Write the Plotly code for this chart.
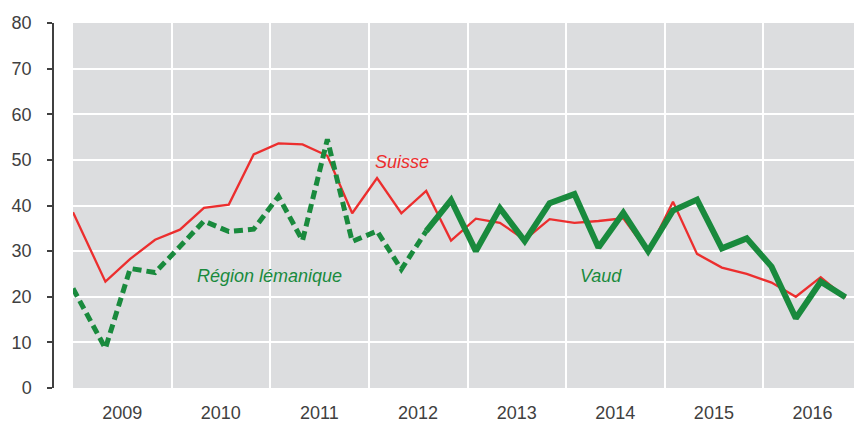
import plotly.graph_objects as go

dates = ["2009-01-01", "2009-05-01", "2009-08-01", "2009-11-01",
         "2010-02-01", "2010-05-01", "2010-08-01", "2010-11-01",
         "2011-02-01", "2011-05-01", "2011-08-01", "2011-11-01",
         "2012-02-01", "2012-05-01", "2012-08-01", "2012-11-01",
         "2013-02-01", "2013-05-01", "2013-08-01", "2013-11-01",
         "2014-02-01", "2014-05-01", "2014-08-01", "2014-11-01",
         "2015-02-01", "2015-05-01", "2015-08-01", "2015-11-01",
         "2016-02-01", "2016-05-01", "2016-08-01", "2016-11-01"]

suisse = [38.5, 23.3, 28.3, 32.5, 34.7, 39.5, 40.2, 51.2,
          53.6, 53.4, 50.9, 38.3, 46.0, 38.3, 43.2, 32.3,
          37.1, 36.2, 32.5, 37.0, 36.2, 36.6, 37.2, 29.8,
          40.8, 29.4, 26.4, 25.0, 23.1, 20.0, 24.3, 19.8]

region_dates = dates[:15]
region_lemanique = [21.8, 8.7, 26.2, 25.3, 31.0, 36.6, 34.3, 34.8,
                    42.0, 32.3, 54.5, 32.1, 34.4, 26.0, 34.4]

vaud_dates = dates[14:]
vaud = [34.4, 41.2, 30.0, 39.4, 32.2, 40.5, 42.5, 30.8, 38.4,
        30.0, 38.9, 41.3, 30.6, 32.8, 26.6, 15.3, 23.3, 19.9]

RED = "#EC2E2E"
GREEN = "#198A3D"
FONT = "Liberation Sans, Arial, sans-serif"

fig = go.Figure()
fig.add_trace(go.Scatter(x=dates, y=suisse, mode="lines",
                         line=dict(color=RED, width=2.3), name="Suisse"))
fig.add_trace(go.Scatter(x=region_dates, y=region_lemanique, mode="lines",
                         line=dict(color=GREEN, width=5, dash="9px,5px"),
                         name="Région lémanique"))
fig.add_trace(go.Scatter(x=vaud_dates, y=vaud, mode="lines",
                         line=dict(color=GREEN, width=6), name="Vaud"))

# page body has an 8px margin, so the figure is offset by 8px
OFF = 8
W, H = 854, 415
ML, MR, MT, MB = 45, 0, 15, 35
pw = W - ML - MR
ph = H - MT - MB
x0 = 20 / pw

fig.update_layout(
    width=W, height=H,
    margin=dict(l=ML, r=MR, t=MT, b=MB, pad=0),
    paper_bgcolor="white",
    plot_bgcolor="#DCDDDF",
    showlegend=False,
    font=dict(family=FONT, size=18, color="#404040"),
    xaxis=dict(
        type="date",
        domain=[x0, 1],
        range=["2009-01-01", "2017-01-01"],
        tick0="2009-01-01", dtick="M12",
        tickformat="%Y", ticklabelmode="period",
        showgrid=True, gridcolor="white", gridwidth=2,
        ticks="", showline=False, zeroline=False,
        ticklabelstandoff=12,
        tickfont=dict(size=18, color="#404040"),
    ),
    yaxis=dict(
        range=[0, 80], dtick=10,
        anchor="free", position=0,
        showgrid=True, gridcolor="white", gridwidth=2,
        showline=True, linecolor="#404040", linewidth=1.5,
        ticks="outside", ticklen=5, tickwidth=1.5, tickcolor="#404040",
        ticklabelstandoff=12,
        zeroline=False,
        tickfont=dict(size=18, color="#404040"),
    ),
)

def px_x(px):
    return (px - OFF - ML) / pw

def px_y(py):
    return (H - MB - (py - OFF)) / ph

for txt, cx, cy, col in [("Suisse", 402, 162, RED),
                         ("Région lémanique", 269, 276, GREEN),
                         ("Vaud", 601, 276, GREEN)]:
    fig.add_annotation(text="<i>%s</i>" % txt, x=px_x(cx), y=px_y(cy),
                       xref="paper", yref="paper", showarrow=False,
                       xanchor="center", yanchor="middle",
                       font=dict(family=FONT, size=18, color=col))

fig.write_html("out.html")
